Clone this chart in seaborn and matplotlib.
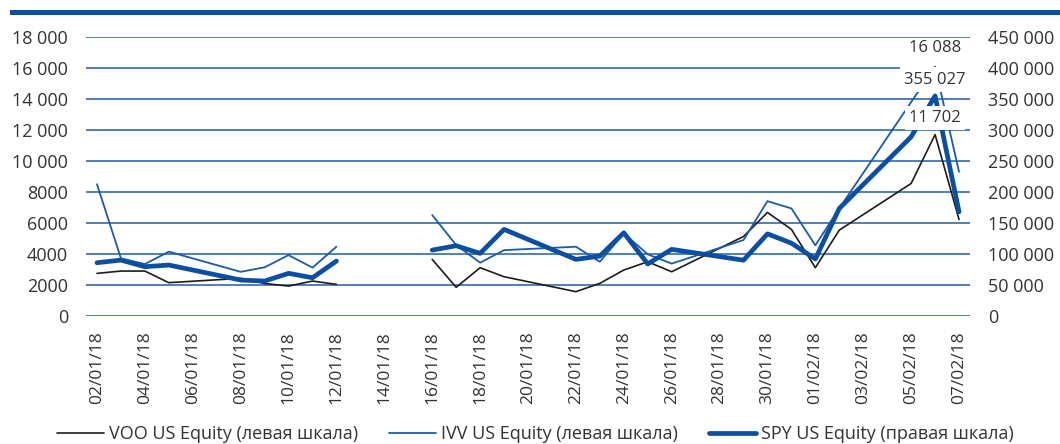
import pandas as pd
import seaborn as sns
import matplotlib.pyplot as plt
from matplotlib.ticker import FuncFormatter, MultipleLocator
from matplotlib.patches import Rectangle

# trading days shown on the chart (13-15 Jan left empty -> gap in lines)
dates = ['2018-01-02', '2018-01-03', '2018-01-04', '2018-01-05', '2018-01-08',
         '2018-01-09', '2018-01-10', '2018-01-11', '2018-01-12',
         '2018-01-16', '2018-01-17', '2018-01-18', '2018-01-19', '2018-01-22',
         '2018-01-23', '2018-01-24', '2018-01-25', '2018-01-26', '2018-01-29',
         '2018-01-30', '2018-01-31', '2018-02-01', '2018-02-02', '2018-02-05',
         '2018-02-06', '2018-02-07']
segment = [0] * 9 + [1] * 17

voo = [2750, 2900, 2900, 2150, 2430, 2100, 1930, 2255, 2040,
       3650, 1850, 3115, 2535, 1570, 2105, 2965, 3500, 2855, 5130,
       6680, 5590, 3115, 5540, 8550, 11702, 6230]
ivv = [8500, 3720, 3350, 4150, 2850, 3140, 3930, 3120, 4470,
       6510, 4580, 3440, 4250, 4470, 3500, 5330, 3980, 3380, 4900,
       7410, 6940, 4560, 6940, 13800, 16088, 9300]
spy = [85900, 90200, 79500, 82200, 58000, 56400, 68800, 61700, 88600,
       106300, 113300, 101000, 139700, 91300, 96700, 134200, 84000, 107500, 90000,
       132500, 117500, 92000, 173500, 289000, 355027, 168000]

labels = ['VOO US Equity (левая шкала)', 'IVV US Equity (левая шкала)',
          'SPY US Equity (правая шкала)']

df = pd.DataFrame({'date': pd.to_datetime(dates), 'segment': segment,
                   'VOO': voo, 'IVV': ivv, 'SPY': spy})

sns.set_style('white')
plt.rcParams['font.family'] = ['Open Sans', 'DejaVu Sans']
text_c = '#333333'
grid_c = '#1f5ca8'
blue = '#0b4fa3'

fig = plt.figure(figsize=(10.6, 4.44), dpi=100)
ax = fig.add_axes([86 / 1060, 1 - 316 / 444, 884 / 1060, 279 / 444])
ax2 = ax.twinx()

sns.lineplot(data=df, x='date', y='VOO', units='segment', estimator=None,
             ax=ax, color='#1c1c1c', lw=1.2, label=labels[0], legend=False)
sns.lineplot(data=df, x='date', y='IVV', units='segment', estimator=None,
             ax=ax, color='#1a5bab', lw=1.3, label=labels[1], legend=False)
sns.lineplot(data=df, x='date', y='SPY', units='segment', estimator=None,
             ax=ax2, color=blue, lw=3.4, label=labels[2], legend=False)

ax.set_ylim(0, 18000)
ax2.set_ylim(0, 450000)
ax.yaxis.set_major_locator(MultipleLocator(2000))
ax2.yaxis.set_major_locator(MultipleLocator(50000))


def fmt(v, pos):
    v = int(round(v))
    return f'{v:,}'.replace(',', ' ') if v >= 10000 else str(v)


ax.yaxis.set_major_formatter(FuncFormatter(fmt))
ax2.yaxis.set_major_formatter(FuncFormatter(fmt))

start, end = pd.Timestamp('2018-01-02'), pd.Timestamp('2018-02-07')
ax.set_xlim(start - pd.Timedelta(hours=11), end + pd.Timedelta(hours=11))
ticks = pd.date_range(start, end, freq='2D')
ax.set_xticks(ticks)
ax.set_xticklabels([t.strftime('%d/%m/%y') for t in ticks], rotation=90)

ax.grid(axis='y', color=grid_c, lw=1.1)
ax.set_axisbelow(True)
for a in (ax, ax2):
    for s in a.spines.values():
        s.set_visible(False)
    a.set_xlabel('')
    a.set_ylabel('')
ax.tick_params(axis='y', length=0, pad=13, labelsize=13, labelcolor=text_c)
ax.tick_params(axis='x', length=0, pad=11, labelsize=12.5, labelcolor=text_c)
ax2.tick_params(axis='y', length=0, pad=13, labelsize=13, labelcolor=text_c)

# peak value labels
peak = df['date'][24]
ax.annotate('16 088', (peak, 16088), xytext=(0, 8), textcoords='offset points',
            ha='center', va='bottom', fontsize=12, color=text_c)
box = dict(boxstyle='square,pad=0.25', fc='white', ec='none')
ax2.annotate('355 027', (peak, 355027), xytext=(0, 6), textcoords='offset points',
             ha='center', va='bottom', fontsize=12, color=text_c, bbox=box)
ax2.annotate('11 702', (peak, 11702 * 25), xytext=(0, 6), textcoords='offset points',
             ha='center', va='bottom', fontsize=12, color=text_c, bbox=box)

# top blue bar
fig.add_artist(Rectangle((10 / 1060, 1 - 15 / 444), 1 - 10 / 1060, 5 / 444,
                         transform=fig.transFigure, color=blue, lw=0))

handles, names = [], []
for a in (ax, ax2):
    h, l = a.get_legend_handles_labels()
    for hh, ll in zip(h, l):
        if ll not in names:
            handles.append(hh)
            names.append(ll)
fig.legend(handles, names, loc='center', bbox_to_anchor=(0.505, 0.022), ncol=3,
           frameon=False, fontsize=13, handlelength=2.6, handletextpad=0.3,
           columnspacing=1.7, labelcolor=text_c)

fig.savefig('out.png', dpi=100)
